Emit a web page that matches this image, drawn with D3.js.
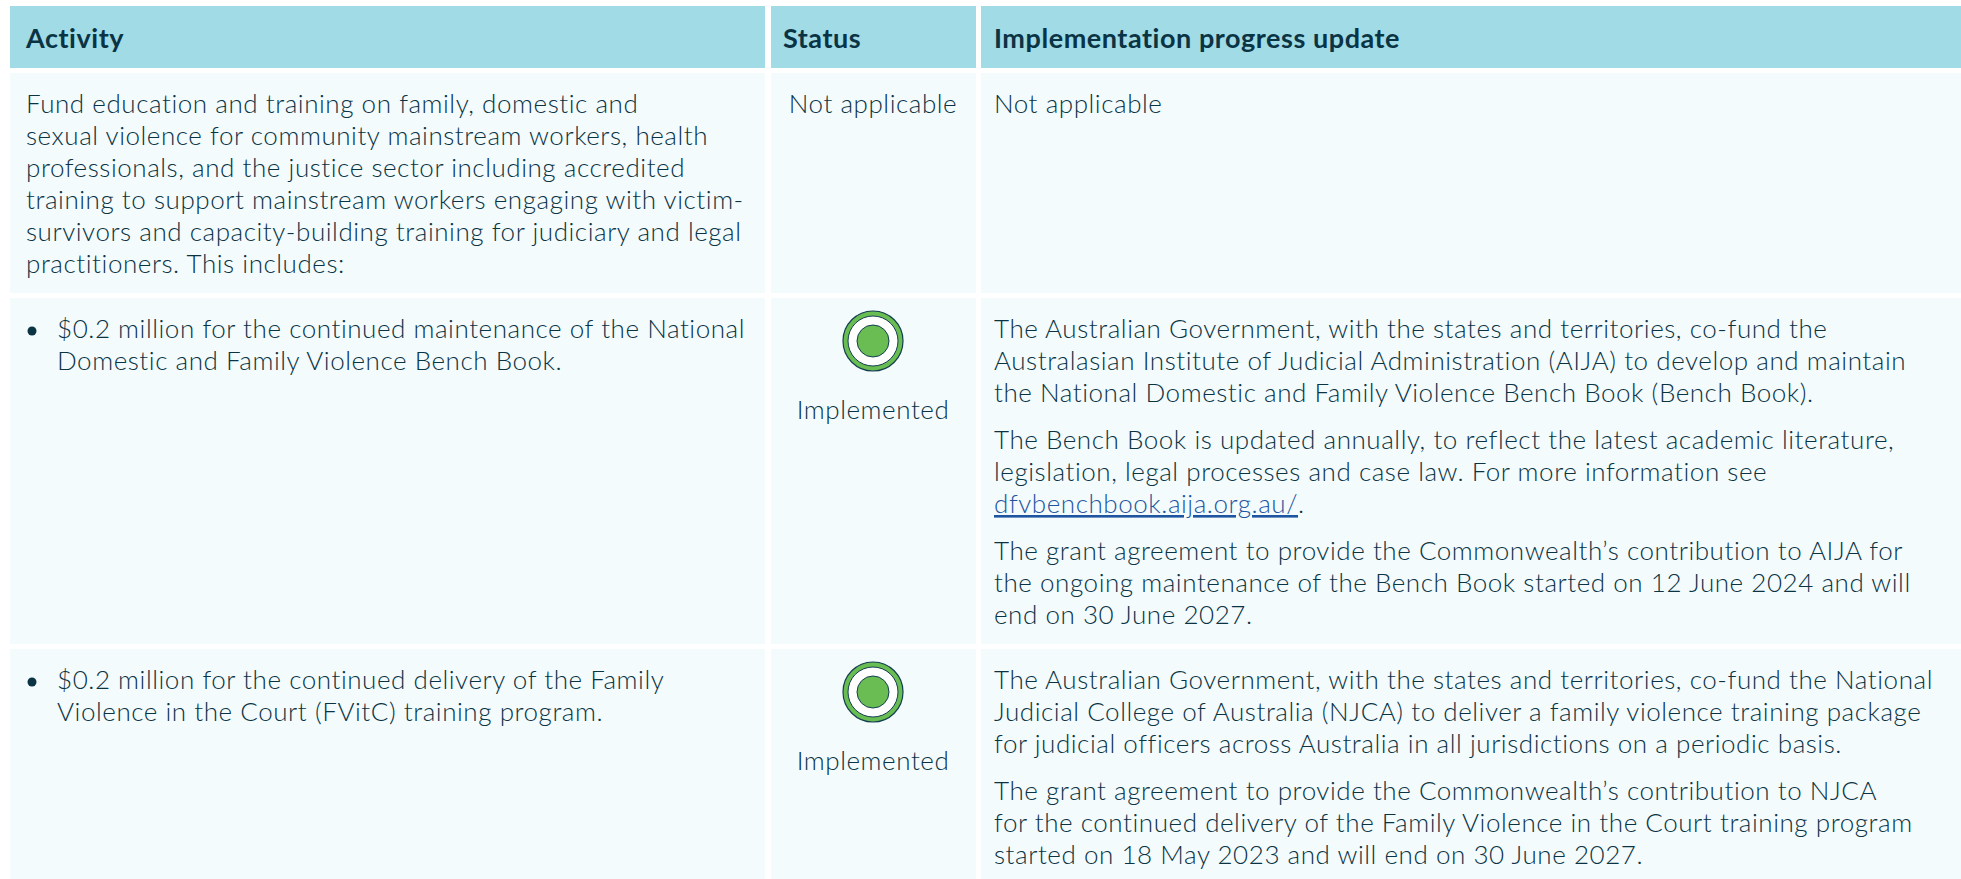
<!DOCTYPE html>
<html>
<head>
    <meta charset="utf-8">
    <title>Implementation progress table</title>
    <style>
        html, body { margin: 0; padding: 0; background: #fff; }
        svg { display: block; }
        text { font-family: Lato, "Open Sans", sans-serif; fill: #0a3344; font-size: 26px; font-weight: 300; letter-spacing: 0.55px; }
        .head { font-weight: 700; font-size: 27px; letter-spacing: 0.55px; }
        .link { fill: #1f54a0; text-decoration: underline; }
    </style>
</head>
<body>
    <div id="table"></div>
    <script src="https://d3js.org/d3.v7.min.js"></script>
    <script>
        // table content
        var headers = ["Activity", "Status", "Implementation progress update"];
        var rowKeys = ["intro", "benchBook", "fvitc"];
        var activities = [
            ["Fund education and training on family, domestic and",
             "sexual violence for community mainstream workers, health",
             "professionals, and the justice sector including accredited",
             "training to support mainstream workers engaging with victim-",
             "survivors and capacity-building training for judiciary and legal",
             "practitioners. This includes:"],
            ["$0.2 million for the continued maintenance of the National",
             "Domestic and Family Violence Bench Book."],
            ["$0.2 million for the continued delivery of the Family",
             "Violence in the Court (FVitC) training program."]
        ];
        var statuses = ["Not applicable", "Implemented", "Implemented"];
        var updates = [
            [["Not applicable"]],
            [["The Australian Government, with the states and territories, co-fund the",
              "Australasian Institute of Judicial Administration (AIJA) to develop and maintain",
              "the National Domestic and Family Violence Bench Book (Bench Book)."],
             ["The Bench Book is updated annually, to reflect the latest academic literature,",
              "legislation, legal processes and case law. For more information see",
              "dfvbenchbook.aija.org.au/."],
             ["The grant agreement to provide the Commonwealth\u2019s contribution to AIJA for",
              "the ongoing maintenance of the Bench Book started on 12 June 2024 and will",
              "end on 30 June 2027."]],
            [["The Australian Government, with the states and territories, co-fund the National",
              "Judicial College of Australia (NJCA) to deliver a family violence training package",
              "for judicial officers across Australia in all jurisdictions on a periodic basis."],
             ["The grant agreement to provide the Commonwealth\u2019s contribution to NJCA",
              "for the continued delivery of the Family Violence in the Court training program",
              "started on 18 May 2023 and will end on 30 June 2027."]]
        ];

        var width = 1961, height = 879;
        var lineH = 32, paraGap = 15;

        var svg = d3.select("#table").append("svg")
            .attr("width", width)
            .attr("height", height);

        // column and row positions
        var colLeft = d3.scaleOrdinal().domain(headers).range([10, 771, 981]);
        var colRight = d3.scaleOrdinal().domain(headers).range([765, 976, 1961]);
        var rowTop = d3.scaleOrdinal().domain(rowKeys).range([73, 298, 649]);
        var rowBottom = d3.scaleOrdinal().domain(rowKeys).range([293, 644, 879]);
        var rowBase = d3.scaleOrdinal().domain(rowKeys).range([113, 338, 689]);
        var textX = d3.scaleOrdinal().domain(headers).range([26, 783, 994]);
        var statusX = 873;

        // header
        svg.selectAll(".headCell").data(headers).enter().append("rect")
            .attr("class", "headCell")
            .attr("x", function (d) { return colLeft(d); })
            .attr("y", 6)
            .attr("width", function (d) { return colRight(d) - colLeft(d); })
            .attr("height", 62)
            .attr("fill", "#a0dbe6");

        svg.selectAll(".head").data(headers).enter().append("text")
            .attr("class", "head")
            .attr("x", function (d) { return textX(d); })
            .attr("y", 48)
            .text(function (d) { return d; });

        // body cells
        rowKeys.forEach(function (key, i) {
            svg.selectAll(".cell-" + key).data(headers).enter().append("rect")
                .attr("class", "cell-" + key)
                .attr("x", function (d) { return colLeft(d); })
                .attr("y", rowTop(key))
                .attr("width", function (d) { return colRight(d) - colLeft(d); })
                .attr("height", rowBottom(key) - rowTop(key))
                .attr("fill", "#f3fbfd");

            // activity column, bullet rows are indented
            var bullet = i > 0;
            var actX = bullet ? 57 : textX(headers[0]);
            if (bullet) {
                svg.append("circle")
                    .attr("cx", 32)
                    .attr("cy", rowBase(key) - 7)
                    .attr("r", 4.5)
                    .attr("fill", "#0a3344");
            }
            svg.selectAll(".act-" + key).data(activities[i]).enter().append("text")
                .attr("class", "act-" + key)
                .attr("x", actX)
                .attr("y", function (d, j) { return rowBase(key) + j * lineH; })
                .text(function (d) { return d; });

            // status column
            if (statuses[i] === "Implemented") {
                var cy = rowBase(key) + 3;
                svg.append("circle").attr("cx", statusX).attr("cy", cy).attr("r", 30)
                    .attr("fill", "#6abd53").attr("stroke", "#123f50").attr("stroke-width", 1.2);
                svg.append("circle").attr("cx", statusX).attr("cy", cy).attr("r", 25)
                    .attr("fill", "#fff").attr("stroke", "#123f50").attr("stroke-width", 1);
                svg.append("circle").attr("cx", statusX).attr("cy", cy).attr("r", 16)
                    .attr("fill", "#6abd53").attr("stroke", "#123f50").attr("stroke-width", 1);
                svg.append("text").attr("x", statusX).attr("y", rowBase(key) + 81)
                    .attr("text-anchor", "middle").text(statuses[i]);
            } else {
                svg.append("text").attr("x", statusX).attr("y", rowBase(key))
                    .attr("text-anchor", "middle").text(statuses[i]);
            }

            // update column
            var y = rowBase(key);
            updates[i].forEach(function (para) {
                para.forEach(function (line) {
                    var t = svg.append("text").attr("x", textX(headers[2])).attr("y", y);
                    if (line.indexOf("dfvbenchbook") === 0) {
                        t.append("tspan").attr("class", "link").text(line.slice(0, -1));
                        t.append("tspan").text(line.slice(-1));
                    } else {
                        t.text(line);
                    }
                    y += lineH;
                });
                y += paraGap;
            });
        });
    </script>
</body>
</html>
